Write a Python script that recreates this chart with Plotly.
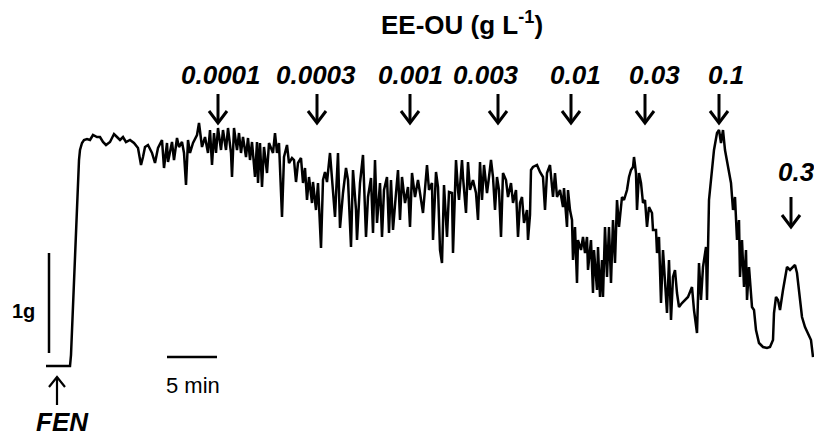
import plotly.graph_objects as go

# Recorded tension trace (time in min, tension in g)
trace_t = [0.0, 2.4, 2.5, 2.6, 2.7, 2.9, 3.1, 3.3, 3.4, 3.6, 3.8, 4.1, 4.4, 4.7, 5.1, 5.4, 5.7, 6.0, 6.4, 6.8,
           7.1, 7.4, 7.7, 8.0, 8.4, 8.8, 9.2, 9.5, 9.7, 9.9, 10.2, 10.6, 10.9, 11.2, 11.6, 11.8, 12.1, 12.2, 12.6, 12.8,
           13.1, 13.3, 13.6, 13.8, 14.0, 14.2, 14.4, 14.7, 15.1, 15.3, 15.6, 15.9, 16.2, 16.4, 16.6, 16.8, 17.0, 17.2, 17.5, 17.7,
           18.0, 18.2, 18.5, 18.6, 18.8, 19.1, 19.3, 19.5, 19.7, 20.0, 20.2, 20.4, 20.6, 20.9, 21.1, 21.2, 21.4, 21.6, 21.8, 22.1,
           22.3, 22.7, 22.9, 23.1, 23.3, 23.6, 23.8, 24.1, 24.3, 24.6, 24.8, 25.0, 25.2, 25.5, 25.7, 25.9, 26.1, 26.3, 26.6, 26.7,
           27.0, 27.2, 27.5, 27.7, 27.9, 28.1, 28.4, 28.7, 28.9, 29.2, 29.4, 29.7, 30.0, 30.2, 30.5, 30.7, 31.0, 31.1, 31.4, 31.7,
           32.0, 32.2, 32.5, 32.7, 32.9, 33.1, 33.4, 33.6, 33.8, 34.1, 34.3, 34.5, 34.7, 35.0, 35.2, 35.4, 35.6, 35.9, 36.2, 36.4,
           36.6, 36.9, 37.2, 37.4, 37.7, 38.1, 38.3, 38.6, 38.7, 39.0, 39.2, 39.4, 39.6, 39.8, 40.1, 40.3, 40.6, 40.7, 41.0, 41.2,
           41.3, 41.6, 41.7, 42.0, 42.2, 42.4, 42.7, 43.0, 43.2, 43.4, 43.6, 43.8, 44.1, 44.3, 44.5, 44.7, 44.9, 45.1, 45.3, 45.5,
           45.7, 46.0, 46.2, 46.5, 46.7, 47.0, 47.2, 47.4, 47.6, 47.8, 48.1, 48.2, 48.4, 48.5, 48.7, 49.1, 49.4, 49.7, 49.9, 50.1,
           50.4, 50.7, 50.9, 51.1, 51.4, 51.7, 51.8, 52.1, 52.2, 52.4, 52.6, 52.7, 52.9, 53.1, 53.2, 53.5, 53.7, 53.9, 54.1, 54.2,
           54.5, 54.7, 54.8, 55.1, 55.2, 55.4, 55.6, 55.7, 55.9, 56.1, 56.3, 56.5, 56.7, 56.9, 57.1, 57.3, 57.6, 57.8, 58.1, 58.3,
           58.5, 58.7, 58.8, 59.0, 59.1, 59.3, 59.5, 59.7, 59.9, 60.1, 60.3, 60.6, 60.7, 61.0, 61.1, 61.3, 61.5, 61.7, 61.9, 62.1,
           62.3, 62.5, 62.7, 62.9, 63.1, 63.3, 63.6, 63.9, 64.2, 64.6, 64.8, 65.1, 65.3, 65.5, 65.7, 66.0, 66.1, 66.3, 66.6, 66.8,
           67.1, 67.3, 67.5, 67.7, 67.9, 68.1, 68.3, 68.5, 68.7, 68.9, 69.1, 69.3, 69.4, 69.6, 69.8, 70.0, 70.1, 70.3, 70.6, 70.8,
           71.0, 71.3, 71.7, 72.1, 72.4, 72.7, 72.8, 73.0, 73.2, 73.4, 73.7, 73.9, 74.1, 74.4, 74.7, 74.9, 75.1, 75.3, 75.6, 75.9,
           76.2, 76.5, 76.7]
trace_g = [0.00, 0.00, 0.11, 0.36, 0.66, 1.16, 1.66, 2.06, 2.16, 2.23, 2.26, 2.27, 2.26, 2.31, 2.29, 2.29, 2.24, 2.21, 2.24, 2.32,
           2.29, 2.26, 2.29, 2.24, 2.26, 2.23, 2.18, 2.01, 2.09, 2.19, 2.21, 2.13, 2.03, 2.18, 2.26, 1.98, 2.23, 2.04, 2.24, 2.06,
           2.28, 2.19, 2.24, 2.13, 1.81, 2.26, 2.13, 2.23, 2.31, 2.43, 2.19, 2.29, 2.13, 2.36, 2.01, 2.33, 2.13, 2.38, 2.16, 2.36,
           2.16, 2.38, 2.13, 1.89, 2.38, 2.16, 2.33, 2.13, 2.29, 2.09, 2.28, 2.06, 2.24, 1.89, 2.24, 1.83, 2.23, 1.79, 2.19, 1.93,
           2.23, 2.13, 2.33, 2.13, 2.23, 1.49, 2.09, 2.21, 2.03, 2.08, 2.06, 1.84, 2.03, 2.08, 1.83, 1.98, 1.66, 1.89, 1.63, 1.84,
           1.56, 1.83, 1.18, 1.86, 1.94, 1.84, 2.13, 1.79, 1.49, 2.13, 1.38, 1.73, 1.98, 1.86, 1.19, 1.96, 1.56, 1.26, 1.83, 2.11,
           1.29, 1.69, 1.88, 1.33, 2.06, 1.43, 1.83, 1.29, 1.76, 1.89, 1.33, 1.86, 1.36, 1.73, 1.96, 1.46, 1.89, 1.63, 1.79, 1.39,
           1.93, 1.69, 1.86, 1.73, 1.53, 2.01, 1.76, 1.83, 1.26, 1.94, 1.79, 1.16, 1.03, 1.81, 1.29, 1.74, 1.73, 1.13, 2.06, 1.76,
           1.66, 2.06, 1.89, 1.53, 2.04, 1.76, 1.86, 1.73, 1.46, 2.04, 1.66, 2.01, 1.73, 1.89, 2.06, 1.89, 1.56, 1.89, 1.76, 1.29,
           1.93, 1.86, 1.69, 1.83, 1.63, 1.76, 1.29, 1.63, 1.69, 1.43, 1.56, 1.26, 1.51, 1.96, 1.99, 2.01, 1.94, 1.89, 1.56, 1.93,
           2.01, 1.69, 1.93, 1.69, 1.76, 1.59, 1.78, 1.39, 1.76, 1.56, 1.46, 1.06, 1.39, 0.83, 1.26, 1.16, 1.29, 1.13, 1.29, 0.96,
           1.26, 0.73, 1.16, 0.76, 1.19, 0.69, 1.06, 0.69, 1.39, 0.89, 1.39, 0.83, 1.46, 1.03, 1.66, 1.39, 1.69, 1.66, 1.76, 1.89,
           1.96, 1.99, 2.09, 1.93, 1.56, 1.93, 1.83, 1.63, 1.66, 1.39, 1.59, 1.53, 1.36, 1.36, 1.13, 1.29, 0.63, 1.16, 0.89, 0.53,
           1.06, 0.46, 0.89, 0.96, 0.73, 0.59, 0.63, 0.66, 0.69, 0.79, 0.56, 0.33, 1.03, 0.66, 0.99, 1.19, 0.66, 1.66, 1.96, 2.16,
           2.33, 2.36, 2.23, 2.36, 2.16, 2.06, 1.96, 1.83, 1.56, 1.69, 1.26, 1.46, 0.89, 1.26, 0.79, 1.16, 0.66, 0.99, 0.59, 0.56,
           0.36, 0.23, 0.19, 0.18, 0.19, 0.26, 0.53, 0.69, 0.66, 0.56, 0.76, 0.89, 0.99, 0.96, 0.99, 1.01, 0.93, 0.73, 0.49, 0.39,
           0.33, 0.26, 0.09]

# Doses of EE-OU (g/L) and the times they were added (min)
dose_labels = ["0.0001", "0.0003", "0.001", "0.003", "0.01", "0.03", "0.1", "0.3"]
dose_t = [17.2, 27.1, 36.4, 45.2, 52.5, 59.9, 67.3, 74.5]
label_t = [17.5, 27.0, 36.4, 44.0, 52.9, 60.8, 68.0, 75.0]
label_g = [2.91, 2.91, 2.91, 2.91, 2.91, 2.91, 2.91, 1.94]
arrow_top = [2.72, 2.72, 2.72, 2.72, 2.72, 2.72, 2.72, 1.69]
arrow_tip = [2.43, 2.43, 2.43, 2.43, 2.43, 2.43, 2.43, 1.39]

# Scale bars
bar_g = [0.13, 1.13]      # 1 g vertical bar
bar_t = [12.1, 17.1]      # 5 min horizontal bar
fen_t = 1.1               # phenylephrine addition

FONT = "Liberation Sans, Arial, sans-serif"

fig = go.Figure()

fig.add_trace(go.Scatter(x=trace_t, y=trace_g, mode="lines",
                         line=dict(color="black", width=2.5), hoverinfo="skip", showlegend=False))

# dose arrows
ax, ay = [], []
for t, top, tip in zip(dose_t, arrow_top, arrow_tip):
    ax += [t, t, None, t - 0.9, t, t + 0.9, None]
    ay += [top, tip, None, tip + 0.12, tip, tip + 0.12, None]
fig.add_trace(go.Scatter(x=ax, y=ay, mode="lines", line=dict(color="black", width=3),
                         hoverinfo="skip", showlegend=False))

# scale bars + FEN arrow
sx = [0.3, 0.3, None, bar_t[0], bar_t[1], None]
sy = [bar_g[0], bar_g[1], None, 0.09, 0.09, None]
fig.add_trace(go.Scatter(x=sx, y=sy, mode="lines", line=dict(color="black", width=2.5),
                         hoverinfo="skip", showlegend=False))
fig.add_trace(go.Scatter(x=[fen_t, fen_t, None, fen_t - 0.8, fen_t, fen_t + 0.8],
                         y=[-0.39, -0.11, None, -0.21, -0.11, -0.21], mode="lines",
                         line=dict(color="black", width=2.2), hoverinfo="skip", showlegend=False))

ann = []
for lab, t, g in zip(dose_labels, label_t, label_g):
    ann.append(dict(x=t, y=g, text=lab, showarrow=False, xref="x", yref="y",
                    font=dict(family=FONT, size=26, color="black", weight="bold", style="italic")))
ann.append(dict(x=41.6, y=3.43, text="EE-OU (g L<sup>-1</sup>)", showarrow=False, xref="x", yref="y",
                font=dict(family=FONT, size=26, color="black", weight="bold")))
ann.append(dict(x=-2.3, y=0.55, text="1g", showarrow=False, xref="x", yref="y",
                font=dict(family=FONT, size=20, color="black", weight="bold")))
ann.append(dict(x=14.7, y=-0.19, text="5 min", showarrow=False, xref="x", yref="y",
                font=dict(family=FONT, size=22, color="black")))
ann.append(dict(x=1.6, y=-0.56, text="FEN", showarrow=False, xref="x", yref="y",
                font=dict(family=FONT, size=26, color="black", weight="bold", style="italic")))

fig.update_layout(
    width=814, height=443,
    margin=dict(l=0, r=0, t=0, b=0),
    paper_bgcolor="white", plot_bgcolor="white",
    xaxis=dict(range=[-4.6, 76.8], visible=False, fixedrange=True),
    yaxis=dict(range=[-0.77, 3.66], visible=False, fixedrange=True),
    annotations=ann,
    showlegend=False,
)

fig.write_html("out.html", config={"displayModeBar": False},
               post_script="document.body.style.margin='0';document.body.style.overflow='hidden';")
